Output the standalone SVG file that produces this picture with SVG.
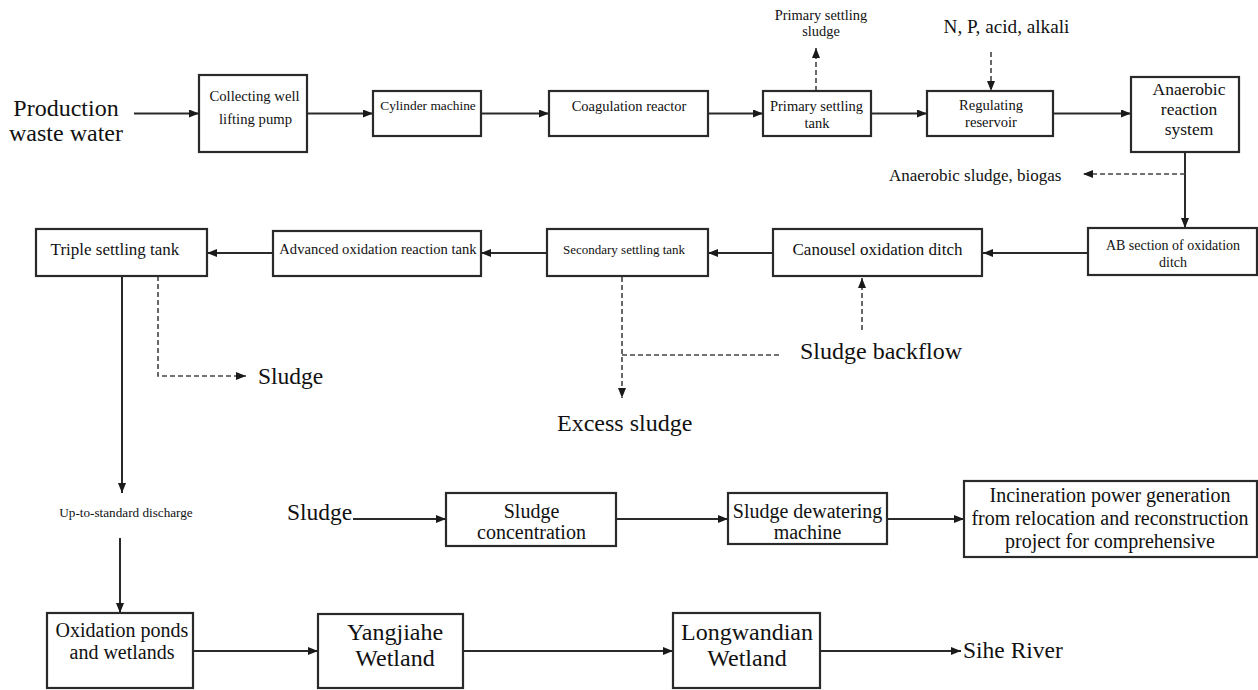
<svg xmlns="http://www.w3.org/2000/svg" width="1258" height="690" viewBox="0 0 1258 690">
<style>
text{font-family:'Liberation Serif','Times New Roman',Times,'DejaVu Serif',serif;fill:#111}
.box{fill:#fff;stroke:#2a2a2a;stroke-width:2.2}
.ln{fill:none;stroke:#2a2a2a;stroke-width:2}
.dl{fill:none;stroke:#444;stroke-width:1.6;stroke-dasharray:5 3}
.m{text-anchor:middle}
</style>
<defs>
<marker id="ah" viewBox="0 0 10 8" refX="10" refY="4" markerWidth="10" markerHeight="8" markerUnits="userSpaceOnUse" orient="auto"><path d="M0,0 L10,4 L0,8 z" fill="#1a1a1a"/></marker>
</defs>
<rect width="1258" height="690" fill="#fff"/>

<g id="connectors">
<line class="ln" x1="134" y1="113.5" x2="199" y2="113.5" marker-end="url(#ah)"/>
<line class="ln" x1="307" y1="113.5" x2="373" y2="113.5" marker-end="url(#ah)"/>
<line class="ln" x1="481" y1="113.5" x2="549" y2="113.5" marker-end="url(#ah)"/>
<line class="ln" x1="708" y1="113.5" x2="763" y2="113.5" marker-end="url(#ah)"/>
<line class="ln" x1="871" y1="113.5" x2="927" y2="113.5" marker-end="url(#ah)"/>
<line class="ln" x1="1053" y1="113.5" x2="1131" y2="113.5" marker-end="url(#ah)"/>
<line class="dl" x1="816" y1="91" x2="816" y2="48" marker-end="url(#ah)"/>
<line class="dl" x1="991" y1="52" x2="991" y2="91" marker-end="url(#ah)"/>
<line class="ln" x1="1185" y1="152" x2="1185" y2="228" marker-end="url(#ah)"/>
<line class="dl" x1="1185" y1="174" x2="1083" y2="174" marker-end="url(#ah)"/>
<line class="ln" x1="1088" y1="253" x2="983" y2="253" marker-end="url(#ah)"/>
<line class="ln" x1="773" y1="253" x2="708" y2="253" marker-end="url(#ah)"/>
<line class="ln" x1="547" y1="253" x2="481" y2="253" marker-end="url(#ah)"/>
<line class="ln" x1="273" y1="253" x2="207" y2="253" marker-end="url(#ah)"/>
<line class="ln" x1="122" y1="276" x2="122" y2="493" marker-end="url(#ah)"/>
<polyline class="dl" points="158,276 158,376 246,376" marker-end="url(#ah)"/>
<line class="dl" x1="622" y1="277" x2="622" y2="398" marker-end="url(#ah)"/>
<line class="dl" x1="622" y1="355" x2="780" y2="355"/>
<line class="dl" x1="862" y1="330" x2="862" y2="278" marker-end="url(#ah)"/>
<line class="ln" x1="120" y1="538" x2="120" y2="613" marker-end="url(#ah)"/>
<line class="ln" x1="353" y1="519" x2="446" y2="519" marker-end="url(#ah)"/>
<line class="ln" x1="616" y1="519" x2="728" y2="519" marker-end="url(#ah)"/>
<line class="ln" x1="887" y1="519" x2="964" y2="519" marker-end="url(#ah)"/>
<line class="ln" x1="193" y1="651" x2="318" y2="651" marker-end="url(#ah)"/>
<line class="ln" x1="463" y1="651" x2="673" y2="651" marker-end="url(#ah)"/>
<line class="ln" x1="820" y1="651" x2="961" y2="651" marker-end="url(#ah)"/>
</g>

<g id="production-waste-water">
<text class="m" x="66" y="116" font-size="24">Production</text>
<text class="m" x="66" y="141" font-size="24">waste water</text>
</g>
<g id="collecting-well">
<rect class="box" x="199" y="75" width="108" height="77"/>
<text class="m" x="254.5" y="101" font-size="14.7">Collecting well</text>
<text class="m" x="255.5" y="124" font-size="14.7">lifting pump</text>
</g>
<g id="cylinder-machine">
<rect class="box" x="373" y="91" width="108" height="45"/>
<text class="m" x="428" y="110" font-size="13.4">Cylinder machine</text>
</g>
<g id="coagulation-reactor">
<rect class="box" x="549" y="91" width="159" height="45"/>
<text class="m" x="629" y="111" font-size="14.5">Coagulation reactor</text>
</g>
<g id="primary-settling-tank">
<rect class="box" x="763" y="91" width="108" height="45"/>
<text class="m" x="816.5" y="111" font-size="14.5">Primary settling</text>
<text class="m" x="817" y="128" font-size="14.5">tank</text>
</g>
<g id="primary-settling-sludge">
<text class="m" x="821" y="20" font-size="14.4">Primary settling</text>
<text class="m" x="821" y="36" font-size="14.4">sludge</text>
</g>
<g id="regulating-reservoir">
<rect class="box" x="927" y="91" width="126" height="45"/>
<text class="m" x="991" y="110" font-size="14.6">Regulating</text>
<text class="m" x="991" y="127" font-size="14.6">reservoir</text>
</g>
<g id="npacid">
<text class="m" x="1006.5" y="33" font-size="19.2">N, P, acid, alkali</text>
</g>
<g id="anaerobic-reaction">
<rect class="box" x="1131" y="77" width="108" height="75"/>
<text class="m" x="1189" y="95" font-size="17.5">Anaerobic</text>
<text class="m" x="1189" y="115" font-size="17.5">reaction</text>
<text class="m" x="1189" y="135" font-size="17.5">system</text>
</g>
<g id="anaerobic-sludge">
<text x="889" y="181" font-size="17">Anaerobic sludge, biogas</text>
</g>
<g id="ab-section">
<rect class="box" x="1088" y="228" width="169" height="47"/>
<text class="m" x="1173" y="250" font-size="14">AB section of oxidation</text>
<text class="m" x="1173" y="267" font-size="14">ditch</text>
</g>
<g id="canousel">
<rect class="box" x="773" y="229" width="209" height="47"/>
<text class="m" x="877.5" y="255" font-size="17">Canousel oxidation ditch</text>
</g>
<g id="secondary-settling">
<rect class="box" x="547" y="229" width="161" height="47"/>
<text class="m" x="624" y="254" font-size="13">Secondary settling tank</text>
</g>
<g id="advanced-oxidation">
<rect class="box" x="273" y="231" width="208" height="45"/>
<text class="m" x="378" y="254" font-size="14.6">Advanced oxidation reaction tank</text>
</g>
<g id="triple-settling">
<rect class="box" x="36" y="229" width="171" height="47"/>
<text class="m" x="115" y="255" font-size="17">Triple settling tank</text>
</g>
<g id="sludge-1">
<text x="258" y="384" font-size="23.5">Sludge</text>
</g>
<g id="sludge-backflow">
<text x="800" y="359" font-size="24">Sludge backflow</text>
</g>
<g id="excess-sludge">
<text x="557" y="431" font-size="24">Excess sludge</text>
</g>
<g id="up-to-standard">
<text class="m" x="126" y="517" font-size="13.2">Up-to-standard discharge</text>
</g>
<g id="sludge-2">
<text x="287" y="520" font-size="23.5">Sludge</text>
</g>
<g id="sludge-concentration">
<rect class="box" x="446" y="493" width="170" height="53"/>
<text class="m" x="531.5" y="518" font-size="20">Sludge</text>
<text class="m" x="531.5" y="539" font-size="20">concentration</text>
</g>
<g id="sludge-dewatering">
<rect class="box" x="728" y="493" width="159" height="51"/>
<text class="m" x="807.5" y="518" font-size="20">Sludge dewatering</text>
<text class="m" x="807.5" y="539" font-size="20">machine</text>
</g>
<g id="incineration">
<rect class="box" x="964" y="481" width="293" height="76"/>
<text class="m" x="1110" y="502" font-size="20">Incineration power generation</text>
<text class="m" x="1110" y="525" font-size="20">from relocation and reconstruction</text>
<text class="m" x="1110" y="548" font-size="20">project for comprehensive</text>
</g>
<g id="oxidation-ponds">
<rect class="box" x="47" y="613" width="146" height="75"/>
<text class="m" x="122" y="637" font-size="20">Oxidation ponds</text>
<text class="m" x="122" y="659" font-size="20">and wetlands</text>
</g>
<g id="yangjiahe">
<rect class="box" x="318" y="614" width="145" height="74"/>
<text class="m" x="395" y="640" font-size="24">Yangjiahe</text>
<text class="m" x="395" y="666" font-size="24">Wetland</text>
</g>
<g id="longwandian">
<rect class="box" x="673" y="613" width="147" height="75"/>
<text class="m" x="747" y="640" font-size="24">Longwandian</text>
<text class="m" x="747" y="666" font-size="24">Wetland</text>
</g>
<g id="sihe-river">
<text x="963" y="658" font-size="23.5">Sihe River</text>
</g>
</svg>
